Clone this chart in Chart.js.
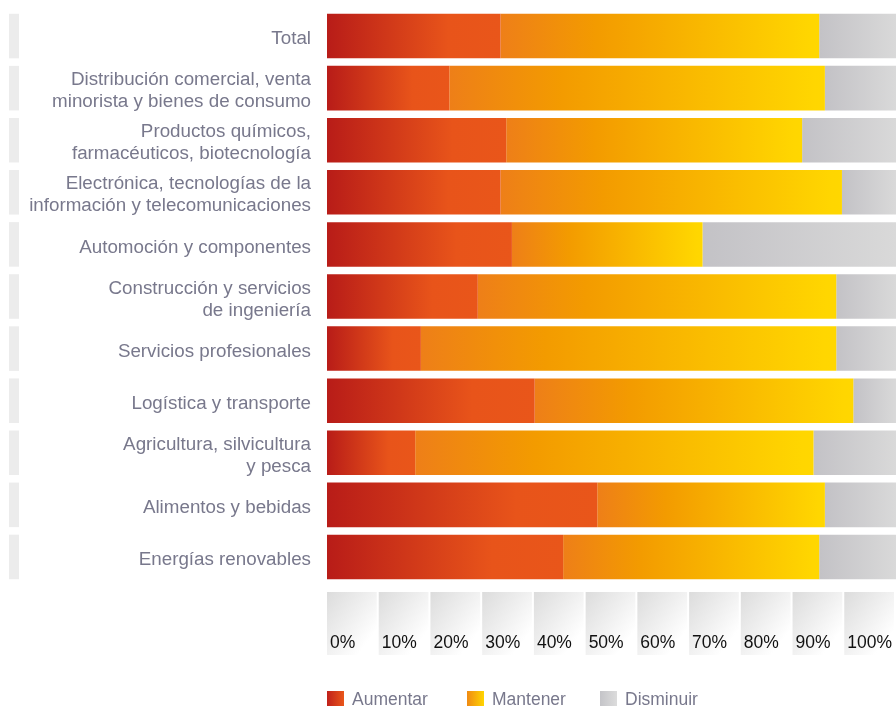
<!DOCTYPE html>
<html lang="es">
<head>
<meta charset="utf-8">
<title>Previsión de plantilla por sector</title>
<script src="https://cdn.jsdelivr.net/npm/chart.js@4/dist/chart.umd.min.js"></script>
<style>
  html, body { margin: 0; padding: 0; background: #fff; }
  #wrap { width: 896px; height: 706px; position: relative; }
</style>
</head>
<body>
<div id="wrap"><canvas id="sectorChart"></canvas></div>
<script>
// Datos (porcentaje de empresas)
const sectores = [
    'Total',
    ['Distribución comercial, venta', 'minorista y bienes de consumo'],
    ['Productos químicos,', 'farmacéuticos, biotecnología'],
    ['Electrónica, tecnologías de la', 'información y telecomunicaciones'],
    'Automoción y componentes',
    ['Construcción y servicios', 'de ingeniería'],
    'Servicios profesionales',
    'Logística y transporte',
    ['Agricultura, silvicultura', 'y pesca'],
    'Alimentos y bebidas',
    'Energías renovables'
];
const aumentar  = [30.5, 21.5, 31.5, 30.5, 32.5, 26.5, 16.5, 36.5, 15.5, 47.5, 41.5];
const mantener  = [56,   66,   52,   60,   33.5, 63,   73,   56,   70,   40,   45];
const disminuir = [13.5, 12.5, 16.5, 9.5,  34,   10.5, 10.5, 7.5,  14.5, 12.5, 13.5];
const etiquetasEje = ['0%', '10%', '20%', '30%', '40%', '50%', '60%', '70%', '80%', '90%', '100%'];

const FONT = '"Liberation Sans", Arial, Helvetica, sans-serif';
const GRIS_TEXTO = '#78788c';

// Degradado horizontal propio de cada segmento
function degradado(paradas) {
    return function (ctx) {
        if (ctx.type !== 'data') return paradas[0][1];
        const chart = ctx.chart;
        const xs = chart.scales.x;
        if (!xs || !chart.chartArea) return paradas[0][1];
        const i = ctx.dataIndex;
        let inicio = 0;
        for (let k = 0; k < ctx.datasetIndex; k++) inicio += chart.data.datasets[k].data[i];
        const fin = inicio + chart.data.datasets[ctx.datasetIndex].data[i];
        const x0 = xs.getPixelForValue(inicio);
        const x1 = xs.getPixelForValue(fin);
        if (!isFinite(x0) || !isFinite(x1)) return paradas[0][1];
        const g = chart.ctx.createLinearGradient(x0, 0, Math.max(x1, x0 + 1), 0);
        paradas.forEach(p => g.addColorStop(p[0], p[1]));
        return g;
    };
}

const rojo = [[0, '#b81c18'], [0.7, '#e8541a'], [1, '#e9561a']];
const amarillo = [[0, '#ee7f18'], [0.3, '#f39b00'], [0.97, '#ffd600'], [1, '#ffd700']];
const gris = [[0, '#c3c2c6'], [1, '#d9d9d9']];

// Fondo: franjas grises a la izquierda y casillas del eje inferior
const fondo = {
    id: 'fondo',
    beforeDraw(chart) {
        const c = chart.ctx;
        const ys = chart.scales.y;
        const x2 = chart.scales.x2;
        const meta = chart.getDatasetMeta(0);
        c.save();
        c.fillStyle = '#ececec';
        ys.ticks.forEach((t, i) => {
            const bar = meta.data[i];
            const h = bar && isFinite(bar.height) ? bar.height : 44;
            const yc = ys.getPixelForTick(i);
            c.fillRect(9, yc - h / 2, 10, h);
        });
        const top = x2.top + 9;
        const alto = 63;
        for (let i = 0; i < etiquetasEje.length; i++) {
            const a = x2.getPixelForTick(i);
            const b = x2.getPixelForTick(i + 1);
            if (!isFinite(a) || !isFinite(b)) continue;
            const w = b - a - 2;
            const g = c.createLinearGradient(a, top, a + w, top + alto * 0.6);
            g.addColorStop(0, '#dcdcdc');
            g.addColorStop(0.55, '#efefef');
            g.addColorStop(1, '#ffffff');
            c.fillStyle = g;
            c.fillRect(a, top, w, alto);
        }
        c.restore();
    }
};

// Leyenda dibujada a mano para poder usar degradados en los cuadros
const leyenda = {
    id: 'leyendaDegradado',
    afterDraw(chart) {
        const c = chart.ctx;
        const items = [
            { texto: 'Aumentar', x: 327, col: ['#c0211b', '#e9561a'] },
            { texto: 'Mantener', x: 467, col: ['#f08a14', '#ffd500'] },
            { texto: 'Disminuir', x: 600, col: ['#c4c4c8', '#dcdcdc'] }
        ];
        const y = 691;
        c.save();
        c.font = '17.5px ' + FONT;
        c.textBaseline = 'alphabetic';
        items.forEach(it => {
            const g = c.createLinearGradient(it.x, 0, it.x + 17, 0);
            g.addColorStop(0, it.col[0]);
            g.addColorStop(1, it.col[1]);
            c.fillStyle = g;
            c.fillRect(it.x, y, 17, 17);
            c.fillStyle = GRIS_TEXTO;
            c.fillText(it.texto, it.x + 25, 705);
        });
        c.restore();
    }
};

const chart = new Chart(document.getElementById('sectorChart'), {
    type: 'bar',
    data: {
        labels: sectores,
        datasets: [
            { label: 'Aumentar', data: aumentar, backgroundColor: degradado(rojo) },
            { label: 'Mantener', data: mantener, backgroundColor: degradado(amarillo) },
            { label: 'Disminuir', data: disminuir, backgroundColor: degradado(gris) }
        ]
    },
    options: {
        indexAxis: 'y',
        responsive: true,
        maintainAspectRatio: false,
        animation: false,
        layout: { padding: { top: 10, bottom: 55, left: 0, right: 0 } },
        datasets: {
            bar: { barPercentage: 0.855, categoryPercentage: 1, borderWidth: 0 }
        },
        plugins: {
            legend: { display: false },
            tooltip: { enabled: false }
        },
        scales: {
            x: { stacked: true, min: 0, max: 100, display: false },
            x2: {
                type: 'category',
                labels: etiquetasEje.concat(['']),
                position: 'bottom',
                offset: false,
                grid: { display: false, drawTicks: false },
                border: { display: false },
                ticks: {
                    align: 'start',
                    labelOffset: 3,
                    padding: 50,
                    autoSkip: false,
                    maxRotation: 0,
                    color: '#111',
                    font: { family: FONT, size: 17.5 }
                },
                afterFit(s) {
                    s.height = 68;
                    s.paddingLeft = 0;
                    s.paddingRight = 0;
                }
            },
            y: {
                stacked: true,
                grid: { display: false, drawTicks: false },
                border: { display: false },
                ticks: {
                    padding: 16,
                    labelOffset: 3,
                    color: GRIS_TEXTO,
                    font: { family: FONT, size: 18.8, lineHeight: 1.17 }
                },
                afterFit(s) {
                    s.width = 327;
                    s.paddingTop = 0;
                    s.paddingBottom = 0;
                }
            }
        }
    },
    plugins: [fondo, leyenda]
});
</script>
</body>
</html>
